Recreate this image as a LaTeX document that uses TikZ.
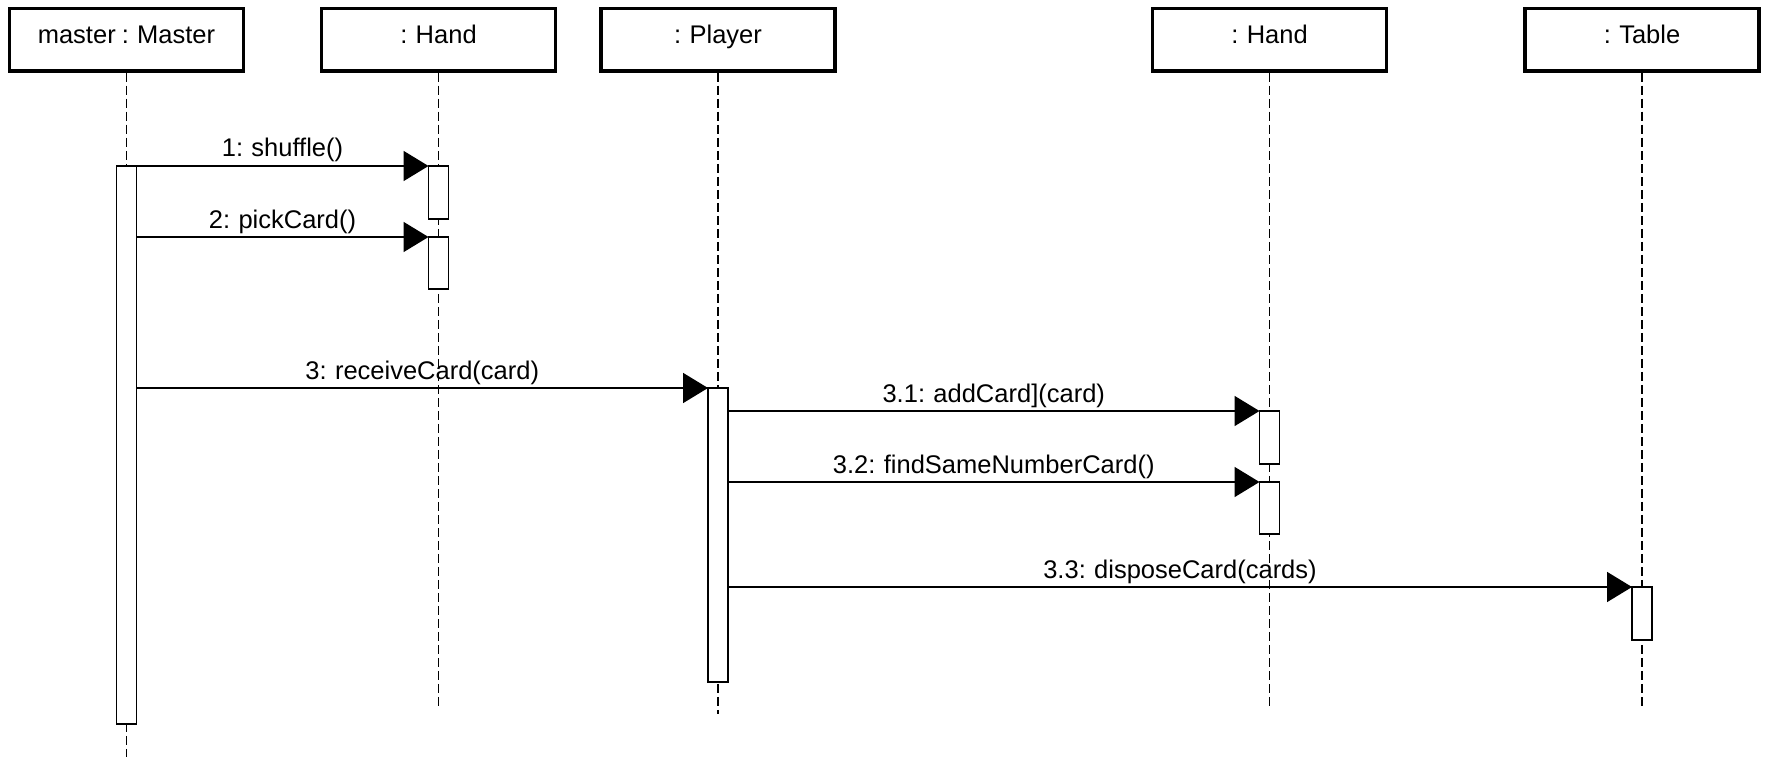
\documentclass[tikz,border=0pt]{standalone}
\usepackage{fontspec}
\setmainfont{Liberation Sans}[WordSpace=0.85]
\usetikzlibrary{arrows.meta}
\begin{document}
\begin{tikzpicture}[x=1pt,y=-1pt,
  lifebox/.style={draw, line width=3.5pt, fill=white, inner sep=0pt,
    minimum width=234pt, minimum height=62.5pt,
    font=\fontsize{25.5pt}{30pt}\selectfont, text height=18.5pt, text depth=10pt},
  lifeline/.style={line width=1.8pt, dash pattern=on 9pt off 4pt},
  activation/.style={draw, line width=1.7pt, fill=white, inner sep=0pt,
    outer sep=0pt, minimum width=20pt},
  msg/.style={line width=1.7pt, -{Triangle[length=25pt,width=30pt]}},
  msglabel/.style={anchor=base, yshift=9pt, inner sep=0pt,
    font=\fontsize{25.5pt}{30pt}\selectfont}
]
\useasboundingbox (0,0) rectangle (1771,757);

% object heads
\node[lifebox] (master) at (126.5,39.75) {master : Master};
\node[lifebox] (hand1)  at (438.5,39.75) {: Hand};
\node[lifebox] (player) at (718,39.75)   {: Player};
\node[lifebox] (hand2)  at (1269.5,39.75) {: Hand};
\node[lifebox] (table)  at (1642,39.75)  {: Table};

% ends of the lifelines
\coordinate (masterEnd) at (126.5,757);
\coordinate (hand1End)  at (438.5,708);
\coordinate (playerEnd) at (718,714);
\coordinate (hand2End)  at (1269.5,708);
\coordinate (tableEnd)  at (1642,708);

\draw[lifeline] (master.south) -- (masterEnd);
\draw[lifeline] (hand1.south)  -- (hand1End);
\draw[lifeline] (player.south) -- (playerEnd);
\draw[lifeline] (hand2.south)  -- (hand2End);
\draw[lifeline] (table.south)  -- (tableEnd);

% activation bars
\node[activation, minimum height=558pt] (mA)  at (126.5,445)   {};
\node[activation, minimum height=53pt]  (h1a) at (438.5,192.5) {};
\node[activation, minimum height=52pt]  (h1b) at (438.5,263)   {};
\node[activation, minimum height=294pt] (pA)  at (718,535)     {};
\node[activation, minimum height=53pt]  (h2a) at (1269.5,437.5) {};
\node[activation, minimum height=52pt]  (h2b) at (1269.5,508)  {};
\node[activation, minimum height=53pt]  (tA)  at (1642,613.5)  {};

% messages
\draw[msg] (mA.north east) -- node[msglabel] {1: shuffle()} (h1a.north west);
\draw[msg] (mA.east |- h1b.north) -- node[msglabel] {2: pickCard()} (h1b.north west);
\draw[msg] (mA.east |- pA.north) -- node[msglabel] {3: receiveCard(card)} (pA.north west);
\draw[msg] (pA.east |- h2a.north) -- node[msglabel] {3.1: addCard](card)} (h2a.north west);
\draw[msg] (pA.east |- h2b.north) -- node[msglabel] {3.2: findSameNumberCard()} (h2b.north west);
\draw[msg] (pA.east |- tA.north) -- node[msglabel] {3.3: disposeCard(cards)} (tA.north west);
\end{tikzpicture}
\end{document}
